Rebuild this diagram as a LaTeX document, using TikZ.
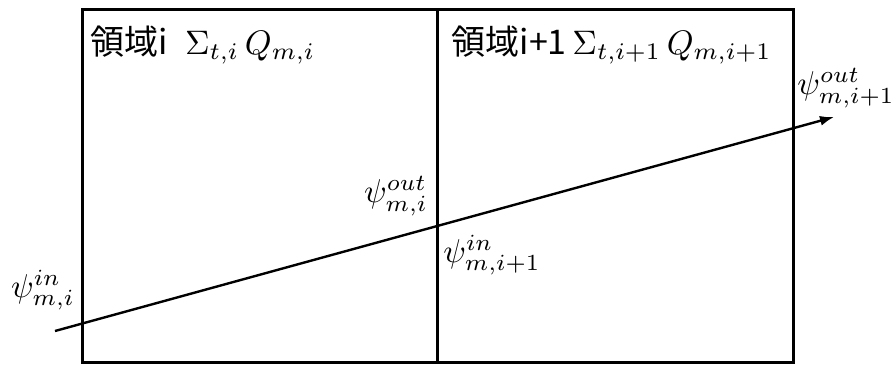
\documentclass[tikz,border=0pt]{standalone}
\usepackage{amsmath,amssymb}
\usepackage{fontspec}
\usepackage{xcolor}
\usetikzlibrary{arrows.meta}
\newfontfamily\jpfont{Noto Sans CJK JP}
\definecolor{FrameLine}{HTML}{000000}
\definecolor{RayLine}{HTML}{000000}
\tikzset{
  frame/.style={draw=FrameLine, line width=3pt},
  ray/.style={draw=RayLine, line width=2.4pt, -{Latex[length=14pt,width=10pt]}},
  regionlabel/.style={anchor=base west, inner sep=0pt, scale=3.4},
  fluxlabel/.style={inner sep=0pt, scale=3.3}
}

\begin{document}
\begin{tikzpicture}[x=1pt, y=-1pt]
		\useasboundingbox (0,0) rectangle (896,365);
		
		% Regions
		\coordinate (tl) at (82,9);
		\coordinate (br) at (793,362);
		\coordinate (mt) at (437,9);
		\coordinate (mb) at (437,362);
		\draw[frame] (tl) rectangle (br);
		\draw[frame] (mt) -- (mb);
		
		% Ray
		\coordinate (start) at (55,331);
		\coordinate (tip) at (834,117);
		\draw[ray] (start) -- (tip);
		
		% Region labels
		\node[regionlabel] (regA) at (90,54) {{\jpfont 領域i}\, $\Sigma_{t,i}\, Q_{m,i}$};
		\node[regionlabel] (regB) at (451,54) {{\jpfont 領域i+1}\,$\Sigma_{t,i+1}\, Q_{m,i+1}$};
		
		% Flux labels
		\node[fluxlabel] (psiA) at (43,290) {$\psi_{m,i}^{in}$};
		\node[fluxlabel] (psiB) at (396,196) {$\psi_{m,i}^{out}$};
		\node[fluxlabel] (psiC) at (492,255) {$\psi_{m,i+1}^{in}$};
		\node[fluxlabel] (psiD) at (846,88) {$\psi_{m,i+1}^{out}$};
	\end{tikzpicture}
\end{document}
